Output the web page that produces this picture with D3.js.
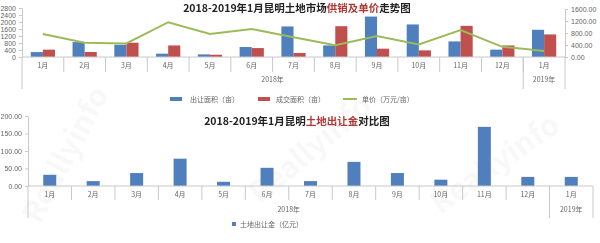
<!DOCTYPE html>
<html>
<head>
<meta charset="utf-8">
<script src="https://cdn.jsdelivr.net/npm/d3@7"></script>
<style>
  body { margin: 0; background: #fff; }
  svg text { font-family: 'Noto Sans CJK SC', 'Noto Sans', sans-serif; }
</style>
</head>
<body>
<div id="chart"></div>
<script>
// data
const months = ['1月', '2月', '3月', '4月', '5月', '6月', '7月', '8月', '9月', '10月', '11月', '12月', '1月']
const yearLabels = ['2018年', '2019年']
const yearSpans = [12, 1]
const supplyArea = [280, 850, 700, 190, 150, 570, 1745, 660, 2310, 1860, 890, 420, 1555]
const dealArea = [420, 285, 815, 660, 130, 510, 230, 1760, 475, 380, 1780, 660, 1290]
const unitPrice = [766, 473, 452, 1160, 766, 935, 655, 395, 700, 420, 900, 338, 203]
const landRevenue = [32, 14, 37, 78, 12, 52, 14, 69, 37, 18, 169, 26, 26]
const areaTicks = [0, 400, 800, 1200, 1600, 2000, 2400, 2800]
const priceTicks = [0, 400, 800, 1200, 1600]
const revenueTicks = [0, 50, 100, 150, 200]

const blue = '#4f7fbc'
const red = '#c0504d'
const green = '#9bbb59'
const axisColor = '#c8c8c8'
const labelColor = '#666'

const svg = d3.select('#chart').append('svg')
  .attr('width', 600)
  .attr('height', 243)

// faint watermark
const wm = svg.append('g').attr('fill', '#000').attr('opacity', 0.03)
  .style('font-family', 'Liberation Sans, sans-serif').style('font-weight', 'bold')
wm.append('text').attr('transform', 'translate(40,225) rotate(-62)').attr('font-size', 30).text('Reallyinfo')
wm.append('text').attr('transform', 'translate(260,205) rotate(-40)').attr('font-size', 30).text('Reallyinfo')
wm.append('text').attr('transform', 'translate(440,215) rotate(-35)').attr('font-size', 30).text('Reallyinfo')

/** Draws a two-level category axis (months, then years) below a chart. */
function drawCategoryAxis (g, x, y0, monthY, yearY, sepEnd, groupEnd) {
  const bw = x.bandwidth()
  g.append('line')
    .attr('x1', x(0)).attr('x2', x(months.length - 1) + bw)
    .attr('y1', y0).attr('y2', y0)
    .attr('stroke', axisColor)
  // short separators between months
  months.forEach(function (m, i) {
    if (i === 0) return
    g.append('line')
      .attr('x1', x(i)).attr('x2', x(i))
      .attr('y1', y0).attr('y2', sepEnd)
      .attr('stroke', axisColor)
  })
  g.selectAll('.mlab').data(months).enter().append('text')
    .attr('x', function (d, i) { return x(i) + bw / 2 })
    .attr('y', monthY)
    .attr('text-anchor', 'middle')
    .attr('font-size', 7)
    .attr('fill', labelColor)
    .text(function (d) { return d })
  // tall year-group separators
  let start = 0
  const edges = [0]
  yearSpans.forEach(function (s) { start += s; edges.push(start) })
  const edgeX = function (e) { return e < months.length ? x(e) : x(months.length - 1) + bw }
  edges.forEach(function (e) {
    g.append('line')
      .attr('x1', edgeX(e)).attr('x2', edgeX(e))
      .attr('y1', y0).attr('y2', groupEnd)
      .attr('stroke', axisColor)
  })
  yearLabels.forEach(function (lab, k) {
    g.append('text')
      .attr('x', (edgeX(edges[k]) + edgeX(edges[k + 1])) / 2)
      .attr('y', yearY)
      .attr('text-anchor', 'middle')
      .attr('font-size', 7)
      .attr('fill', labelColor)
      .text(lab)
  })
}

/** Title with a highlighted middle part. */
function drawTitle (y, parts) {
  const t = svg.append('text')
    .attr('x', 297).attr('y', y)
    .attr('text-anchor', 'middle')
    .attr('font-size', 10.5)
    .attr('font-weight', 'bold')
  parts.forEach(function (p) {
    t.append('tspan').attr('fill', p[1]).text(p[0])
  })
}

// ---------- top chart ----------
const topChart = svg.append('g')
const x = d3.scaleBand().domain(d3.range(months.length)).range([22, 565])
const x1 = d3.scaleBand().domain(['supply', 'deal'])
  .range([x.bandwidth() * 0.21, x.bandwidth() * 0.79])
const yL = d3.scaleLinear().domain([0, 2800]).range([57, 8])
const yR = d3.scaleLinear().domain([0, 1600]).range([57, 9])

const leftAxis = topChart.append('g')
  .attr('transform', 'translate(22,0)')
  .call(d3.axisLeft(yL).tickValues(areaTicks).tickSize(3).tickSizeOuter(0).tickFormat(d3.format('d')))
const rightAxis = topChart.append('g')
  .attr('transform', 'translate(565,0)')
  .call(d3.axisRight(yR).tickValues(priceTicks).tickSize(3).tickSizeOuter(0).tickFormat(d3.format('.2f')))
;[leftAxis, rightAxis].forEach(function (a) {
  a.selectAll('path, line').attr('stroke', axisColor)
  a.selectAll('text').attr('font-size', 7).attr('fill', labelColor)
    .style('font-family', 'Liberation Sans, sans-serif')
})

topChart.selectAll('.supply').data(supplyArea).enter().append('rect')
  .attr('x', function (d, i) { return x(i) + x1('supply') })
  .attr('y', function (d) { return yL(d) })
  .attr('width', x1.bandwidth())
  .attr('height', function (d) { return yL(0) - yL(d) })
  .attr('fill', blue)
topChart.selectAll('.deal').data(dealArea).enter().append('rect')
  .attr('x', function (d, i) { return x(i) + x1('deal') })
  .attr('y', function (d) { return yL(d) })
  .attr('width', x1.bandwidth())
  .attr('height', function (d) { return yL(0) - yL(d) })
  .attr('fill', red)

drawCategoryAxis(topChart, x, 57, 68, 82, 72, 89)

topChart.append('path')
  .datum(unitPrice)
  .attr('fill', 'none')
  .attr('stroke', green)
  .attr('stroke-width', 2)
  .attr('d', d3.line()
    .x(function (d, i) { return x(i) + x.bandwidth() / 2 })
    .y(function (d) { return yR(d) }))

drawTitle(11.5, [['2018-2019年1月昆明土地市场', '#222'], ['供销及单价', '#b03a37'], ['走势图', '#222']])

// top legend
const lg = svg.append('g').attr('font-size', 7).attr('fill', labelColor)
lg.append('rect').attr('x', 170).attr('y', 97).attr('width', 12).attr('height', 4).attr('fill', blue)
lg.append('text').attr('x', 190).attr('y', 101.5).text('出让面积（亩）')
lg.append('rect').attr('x', 258).attr('y', 97).attr('width', 12).attr('height', 4).attr('fill', red)
lg.append('text').attr('x', 276).attr('y', 101.5).text('成交面积（亩）')
lg.append('line').attr('x1', 343).attr('x2', 357).attr('y1', 99).attr('y2', 99)
  .attr('stroke', green).attr('stroke-width', 2)
lg.append('text').attr('x', 362).attr('y', 101.5).text('单价（万元/亩）')

// ---------- bottom chart ----------
const bottomChart = svg.append('g')
const xb = d3.scaleBand().domain(d3.range(months.length)).range([28, 593])
const yb = d3.scaleLinear().domain([0, 200]).range([186, 116])

const bAxis = bottomChart.append('g')
  .attr('transform', 'translate(28,0)')
  .call(d3.axisLeft(yb).tickValues(revenueTicks).tickSize(3).tickSizeOuter(0).tickFormat(d3.format('.2f')))
bAxis.selectAll('path, line').attr('stroke', axisColor)
bAxis.selectAll('text').attr('font-size', 7).attr('fill', labelColor)
  .style('font-family', 'Liberation Sans, sans-serif')

const barW = 13
bottomChart.selectAll('.rev').data(landRevenue).enter().append('rect')
  .attr('x', function (d, i) { return xb(i) + (xb.bandwidth() - barW) / 2 })
  .attr('y', function (d) { return yb(d) })
  .attr('width', barW)
  .attr('height', function (d) { return yb(0) - yb(d) })
  .attr('fill', blue)

drawCategoryAxis(bottomChart, xb, 186, 197, 212, 200, 218)

drawTitle(125, [['2018-2019年1月昆明', '#222'], ['土地出让金', '#b03a37'], ['对比图', '#222']])

const lg2 = svg.append('g').attr('font-size', 7).attr('fill', labelColor)
lg2.append('rect').attr('x', 232).attr('y', 222).attr('width', 4).attr('height', 4).attr('fill', blue)
lg2.append('text').attr('x', 240).attr('y', 226.5).text('土地出让金（亿元）')
</script>
</body>
</html>
